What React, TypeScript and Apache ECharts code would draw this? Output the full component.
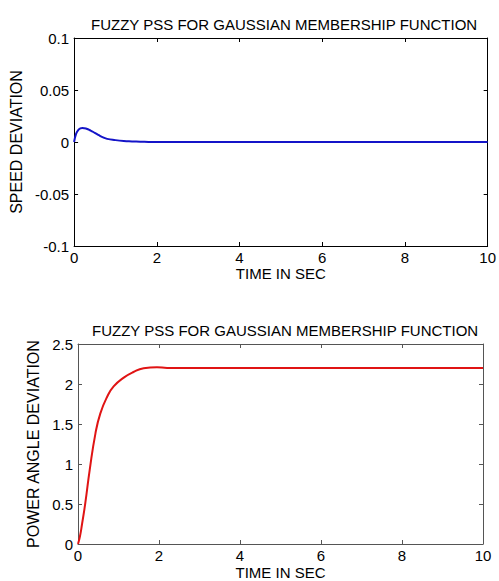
import React, { useEffect, useRef } from "react";
import * as echarts from "echarts";

const chartTitle = "FUZZY PSS FOR GAUSSIAN MEMBERSHIP FUNCTION";
const xAxisName = "TIME IN SEC";
const speedAxisName = "SPEED DEVIATION";
const angleAxisName = "POWER ANGLE DEVIATION";

const speedTime = [0, 0.05, 0.1, 0.15, 0.2, 0.3, 0.4, 0.5, 0.6, 0.7, 0.8, 1.0, 1.2, 1.4, 1.6, 1.8, 2.0, 3.0, 4.0, 6.0, 8.0, 10.0];
const speedDeviation = [0, 0.008, 0.0115, 0.013, 0.0135, 0.0128, 0.011, 0.0088, 0.0065, 0.0045, 0.003, 0.0018, 0.001, 0.0006, 0.0003, 0.0001, 0, 0, 0, 0, 0, 0];

const angleTime = [0, 0.05, 0.1, 0.18, 0.29, 0.43, 0.55, 0.72, 0.88, 1.13, 1.37, 1.62, 1.95, 2.2, 3.0, 4.0, 6.0, 8.0, 10.0];
const powerAngleDeviation = [0, 0.1, 0.25, 0.51, 0.93, 1.38, 1.63, 1.84, 1.97, 2.08, 2.15, 2.196, 2.21, 2.2, 2.2, 2.2, 2.2, 2.2, 2.2];

const FONT = "'Liberation Sans', Arial, sans-serif";

function axisPair(gridIndex: number, min: number, max: number, interval: number, color: string, isX: boolean, showName: string, nameGap: number) {
  const main: any = {
    type: "value",
    gridIndex,
    min,
    max,
    interval,
    position: isX ? "bottom" : "left",
    name: showName,
    nameLocation: "middle",
    nameGap,
    nameTextStyle: { color: "#000", fontFamily: FONT, fontSize: isX ? 15 : 16 },
    axisLine: { show: true, onZero: false, lineStyle: { color, width: 1 } },
    axisTick: { show: true, inside: true, length: 4, lineStyle: { color } },
    axisLabel: { show: true, margin: isX ? 4 : 5, color: "#000", fontFamily: FONT, fontSize: 15 },
    splitLine: { show: false },
  };
  const mirror: any = {
    type: "value",
    gridIndex,
    min,
    max,
    interval,
    position: isX ? "top" : "right",
    axisLine: { show: true, onZero: false, lineStyle: { color, width: 1 } },
    axisTick: { show: true, inside: true, length: 4, lineStyle: { color } },
    axisLabel: { show: false },
    splitLine: { show: false },
  };
  return [main, mirror];
}

export default function App() {
  const ref = useRef<HTMLDivElement>(null);
  useEffect(() => {
    if (!ref.current) return;
    const chart = echarts.init(ref.current, undefined, { renderer: "svg" });
    const [x0, x0m] = axisPair(0, 0, 10, 2, "#000", true, xAxisName, 18);
    const [y0, y0m] = axisPair(0, -0.1, 0.1, 0.05, "#000", false, speedAxisName, 45);
    const [x1, x1m] = axisPair(1, 0, 10, 2, "#555", true, xAxisName, 21);
    const [y1, y1m] = axisPair(1, 0, 2.5, 0.5, "#555", false, angleAxisName, 31);
    chart.setOption({
      animation: false,
      backgroundColor: "#fff",
      title: [
        { text: chartTitle, left: 86, top: 12, textStyle: { color: "#000", fontFamily: FONT, fontSize: 15, fontWeight: "normal" } },
        { text: chartTitle, left: 87, top: 318, textStyle: { color: "#000", fontFamily: FONT, fontSize: 15, fontWeight: "normal" } },
      ],
      grid: [
        { left: 70, top: 38, width: 422, height: 208 },
        { left: 78, top: 344, width: 405, height: 200 },
      ],
      xAxis: [x0, x0m, x1, x1m],
      yAxis: [y0, y0m, y1, y1m],
      series: [
        {
          type: "line",
          xAxisIndex: 0,
          yAxisIndex: 0,
          data: speedTime.map((t, i) => [t, speedDeviation[i]]),
          showSymbol: false,
          smooth: true,
          lineStyle: { color: "#1414c8", width: 2 },
        },
        {
          type: "line",
          xAxisIndex: 2,
          yAxisIndex: 2,
          data: angleTime.map((t, i) => [t, powerAngleDeviation[i]]),
          showSymbol: false,
          smooth: true,
          lineStyle: { color: "#e01414", width: 2 },
        },
      ],
    });
    return () => chart.dispose();
  }, []);
  return (
    <div
      ref={ref}
      style={{ position: "fixed", left: 0, top: 0, width: 499, height: 581, background: "#fff" }}
    />
  );
}
